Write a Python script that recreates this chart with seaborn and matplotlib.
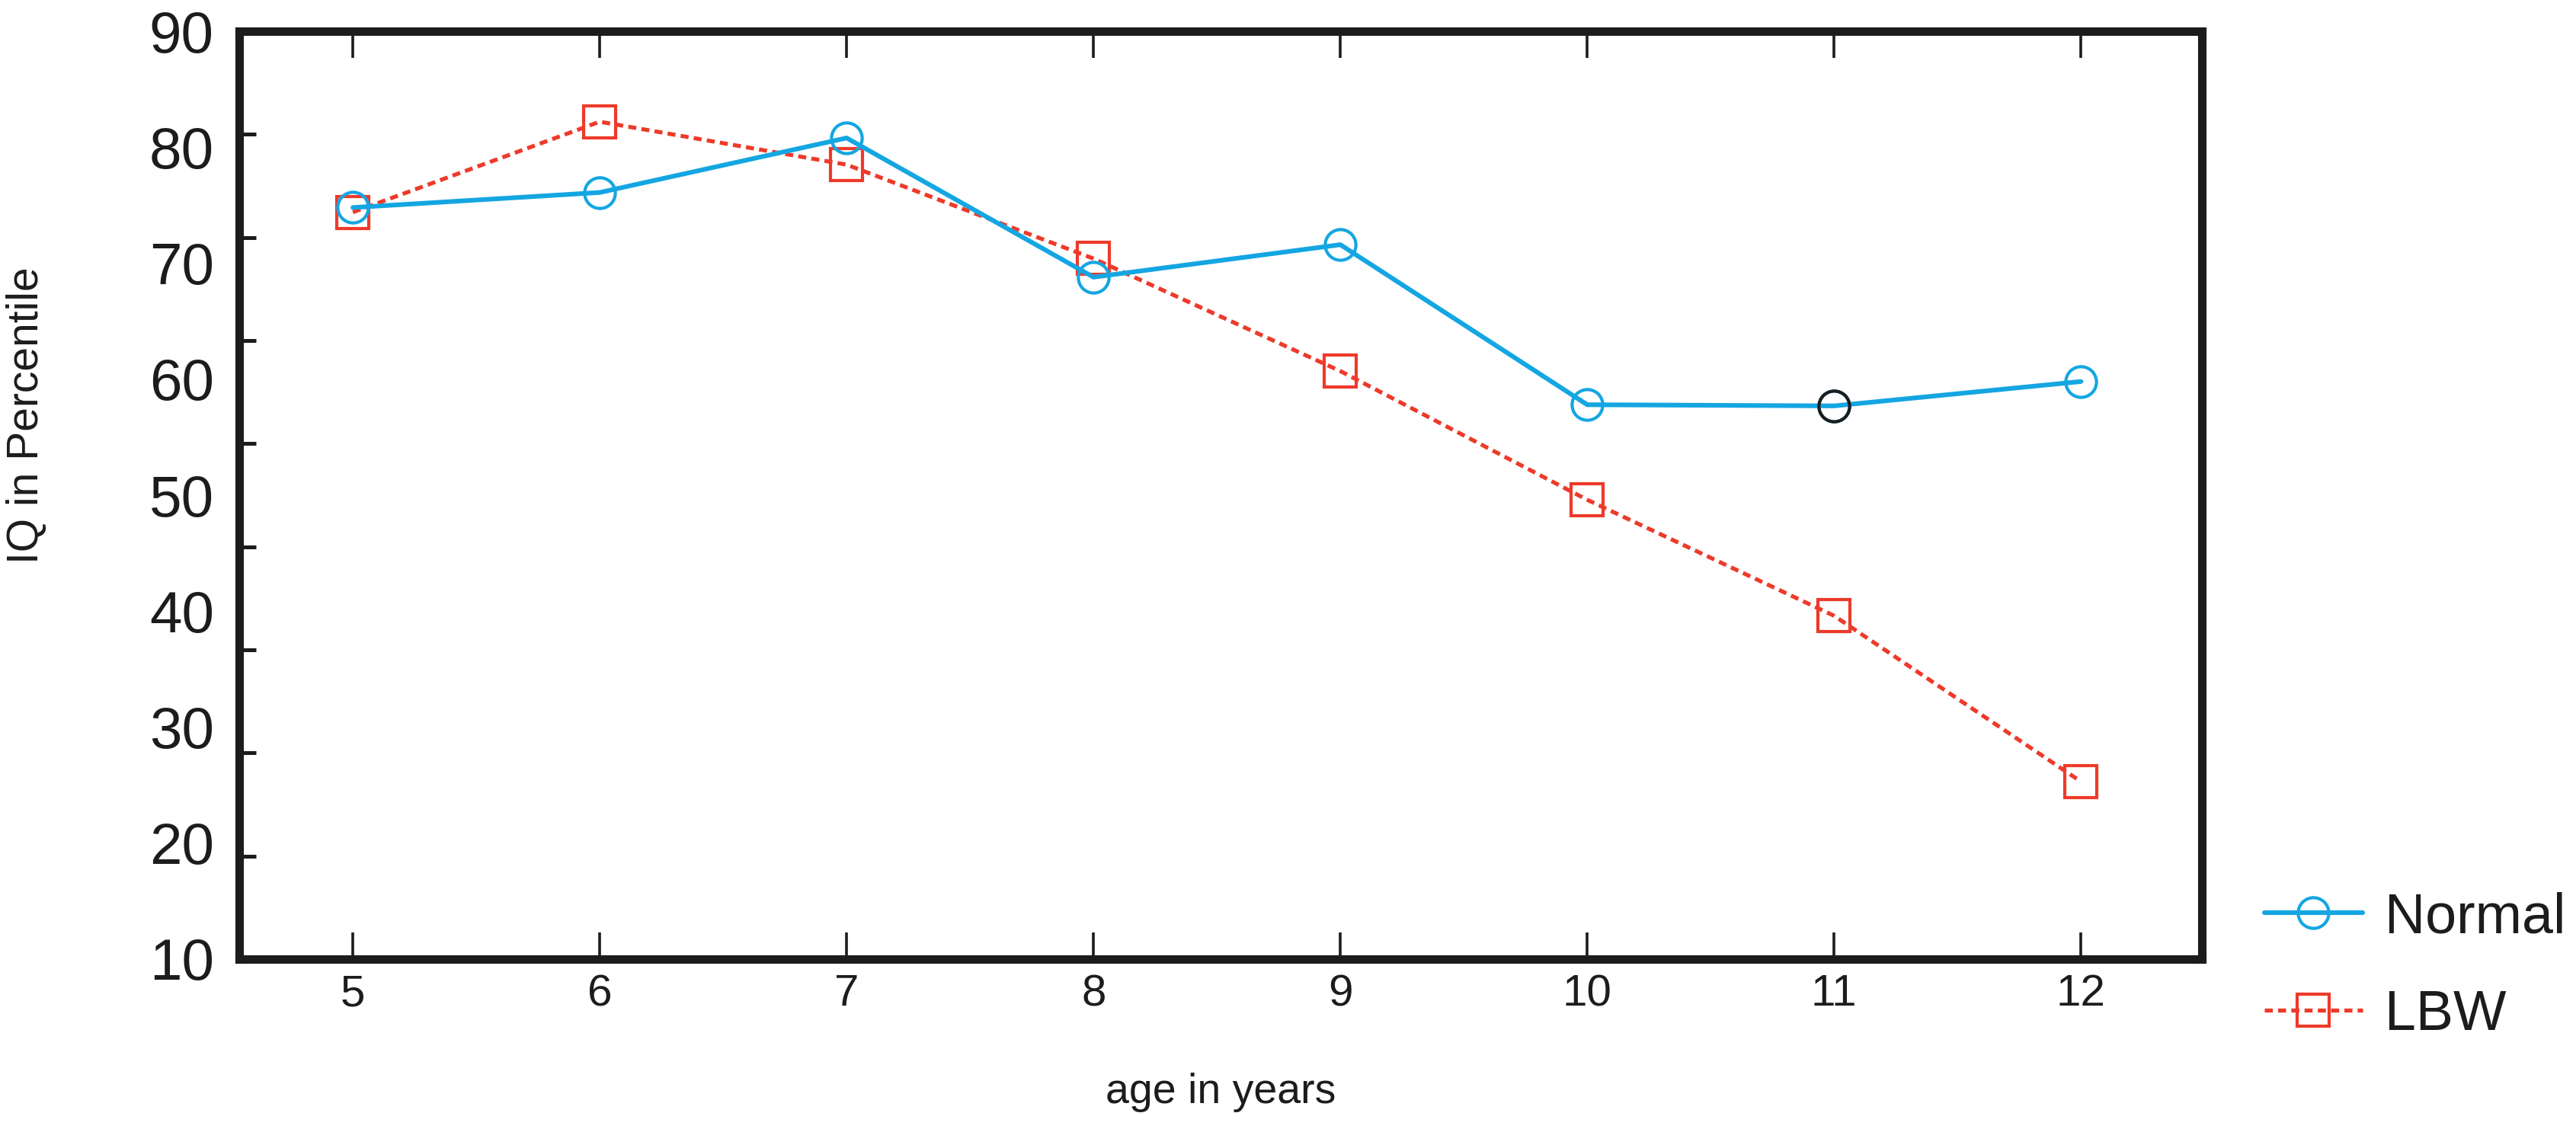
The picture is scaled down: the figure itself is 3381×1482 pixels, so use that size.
import numpy as np
import pandas as pd
import matplotlib
matplotlib.use('Agg')
import matplotlib.pyplot as plt
import seaborn as sns

# data
ages = [5, 6, 7, 8, 9, 10, 11, 12]
iq_normal = [74.8, 76.1, 80.8, 68.8, 71.6, 57.8, 57.7, 59.8]
iq_lbw = [74.4, 82.2, 78.5, 70.4, 60.7, 49.6, 39.6, 25.3]
highlight_age = 11          # the one Normal point drawn with a black ring
ytick_labels = [10, 20, 30, 40, 50, 60, 70, 80, 90]

blue = '#14A6E2'
red = '#EE3A2A'
ink = '#1c1c1c'

sns.set_style('white')
plt.rcParams['font.family'] = ['Liberation Sans', 'DejaVu Sans']

df = pd.DataFrame({
    'age': ages * 2,
    'iq': iq_normal + iq_lbw,
    'group': ['Normal'] * len(ages) + ['LBW'] * len(ages),
})

fig = plt.figure(figsize=(3381 / 200, 1482 / 200), dpi=200)
ax = fig.add_axes([0.0929, 0.1505, 0.7619, 0.8218])

# LBW first so the Normal line sits on top
sns.lineplot(data=df[df['group'] == 'LBW'], x='age', y='iq', ax=ax,
             color=red, linewidth=1.9, linestyle=(0, (2.0, 1.3)),
             marker='s', markersize=15, markerfacecolor='none',
             markeredgecolor=red, markeredgewidth=1.5, label='LBW')
sns.lineplot(data=df[df['group'] == 'Normal'], x='age', y='iq', ax=ax,
             color=blue, linewidth=2.2, linestyle='-',
             marker='o', markersize=14.5, markerfacecolor='none',
             markeredgecolor=blue, markeredgewidth=1.5, label='Normal')

hl = df[(df['group'] == 'Normal') & (df['age'] == highlight_age)]
sns.lineplot(data=hl, x='age', y='iq', ax=ax, color=blue, linewidth=0,
             marker='o', markersize=14.5, markerfacecolor='none',
             markeredgecolor=ink, markeredgewidth=1.5, legend=False)

ax.set_xlim(4.54, 12.49)
ax.set_ylim(10, 90)

# x ticks inward on bottom and top, labels only at the bottom
ax.set_xticks(ages)
ax.set_xticklabels([str(a) for a in ages])
ax.tick_params(axis='x', which='major', direction='in', length=12.5, width=1.3,
               color=ink, top=True, bottom=True, labelsize=21, pad=7,
               labelcolor=ink)

# y labels evenly spaced, tick marks split the axis into nine parts
ax.set_yticks(ytick_labels)
ax.set_yticklabels([str(v) for v in ytick_labels])
ax.set_yticks(np.linspace(10, 90, 10)[1:-1], minor=True)
ax.tick_params(axis='y', which='major', length=0, labelsize=27.5, pad=12,
               labelcolor=ink)
ax.tick_params(axis='y', which='minor', direction='in', length=8, width=1.8,
               color=ink, left=True, right=False)

for side in ['left', 'right', 'top', 'bottom']:
    ax.spines[side].set_visible(True)
    ax.spines[side].set_linewidth(4)
    ax.spines[side].set_color(ink)

ax.set_xlabel('age in years', fontsize=20, color=ink)
ax.xaxis.set_label_coords(0.5, -0.122)
ax.set_ylabel('IQ in Percentile', fontsize=20.5, color=ink)
ax.yaxis.set_label_coords(-0.098, 0.586)

handles, labels = ax.get_legend_handles_labels()
ax.get_legend().remove()
order = [labels.index('Normal'), labels.index('LBW')]
fig.legend([handles[i] for i in order], [labels[i] for i in order],
           loc='center left', bbox_to_anchor=(0.879, 0.144), frameon=False,
           fontsize=26.5, handlelength=1.75, handletextpad=0.4,
           labelspacing=0.8, borderpad=0, borderaxespad=0, labelcolor=ink)

fig.savefig('out.png', dpi=200, facecolor='white')
